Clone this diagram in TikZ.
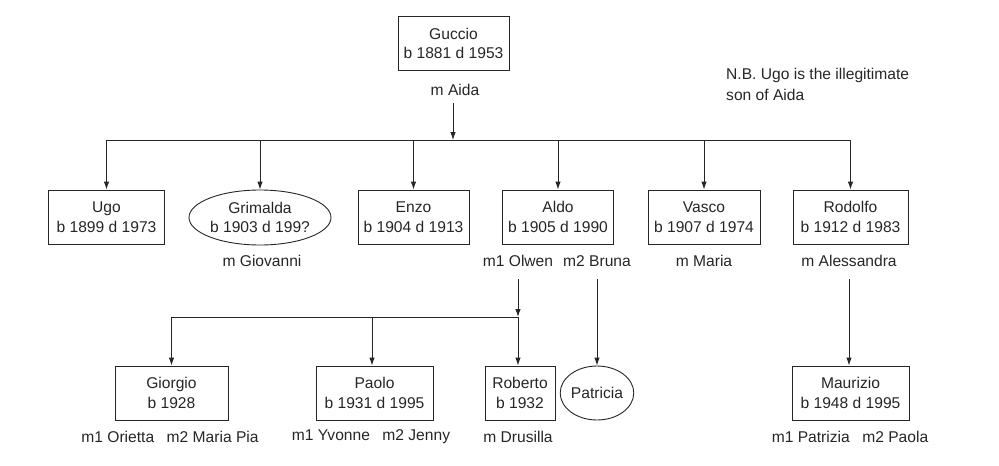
\documentclass[tikz,border=0pt]{standalone}
\usepackage{fontspec}
\setmainfont{Liberation Sans}
\usetikzlibrary{arrows.meta,shapes.geometric}
\definecolor{ink}{HTML}{262626}
\begin{document}
\begin{tikzpicture}[x=1pt,y=-1pt,
  every node/.style={text=ink,font=\fontsize{15.6}{19.5}\selectfont,inner sep=0pt},
  person/.style={draw=ink,line width=0.9pt,rectangle,minimum width=113pt,minimum height=54pt,align=center},
  oval/.style={draw=ink,line width=0.9pt,ellipse,minimum width=142pt,minimum height=55pt,align=center},
  lbl/.style={align=center},
  ln/.style={draw=ink,line width=0.9pt},
  arr/.style={ln,-{Latex[length=8pt,width=5.5pt]}}]
\useasboundingbox (0,0) rectangle (999,466);
% generation 1
\node[person,minimum width=111pt] (guccio) at (453.5,43.5) {Guccio\\b 1881 d 1953};
\node[lbl] (aida) at (455,90) {m Aida};
\node[anchor=north west,align=left,font=\fontsize{15.6}{21}\selectfont] (nb) at (726,68) {N.B. Ugo is the illegitimate\\son of Aida};
% generation 2
\node[person,minimum width=116pt] (ugo) at (106.5,217) {Ugo\\b 1899 d 1973};
\node[oval] (grimalda) at (260,217.5) {Grimalda\\b 1903 d 199?};
\node[lbl] (giovanni) at (262,261) {m Giovanni};
\node[person,minimum width=111pt] (enzo) at (413.5,217) {Enzo\\b 1904 d 1913};
\node[person,minimum width=111pt] (aldo) at (558,217) {Aldo\\b 1905 d 1990};
\node[lbl] (olwen) at (518,261) {m1 Olwen};
\node[lbl] (bruna) at (597,261) {m2 Bruna};
\node[person,minimum width=112pt] (vasco) at (704,217) {Vasco\\b 1907 d 1974};
\node[lbl] (maria) at (704,261) {m Maria};
\node[person,minimum width=115pt] (rodolfo) at (850.5,217) {Rodolfo\\b 1912 d 1983};
\node[lbl] (alessandra) at (849,261) {m Alessandra};
% generation 3
\node[person,minimum width=113pt] (giorgio) at (171.5,393) {Giorgio\\b 1928};
\node[lbl] (giorgiom) at (170,437) {m1 Orietta\hspace{0.8em}m2 Maria Pia};
\node[person,minimum width=117pt] (paolo) at (374.5,393) {Paolo\\b 1931 d 1995};
\node[lbl] (paolom) at (371,437) {m1 Yvonne\hspace{0.8em}m2 Jenny};
\node[person,minimum width=70pt] (roberto) at (520,393) {Roberto\\b 1932};
\node[lbl] (drusilla) at (518,437) {m Drusilla};
\node[draw=ink,line width=0.9pt,ellipse,minimum width=64pt,minimum height=54pt] (patricia) at (597,393) {Patricia};
\node[person,minimum width=117pt] (maurizio) at (850.5,393) {Maurizio\\b 1948 d 1995};
\node[lbl] (mauriziom) at (850,437) {m1 Patrizia\hspace{0.8em}m2 Paola};
% connectors
\coordinate (bar) at (453,140);
\coordinate (aidaout) at (453,103);
\draw[arr] (aidaout) -- (bar);
\draw[ln] (ugo.north |- bar) -- (rodolfo.north |- bar);
\draw[arr] (ugo.north |- bar) -- (ugo.north);
\draw[arr] (grimalda.north |- bar) -- (grimalda.north);
\draw[arr] (enzo.north |- bar) -- (enzo.north);
\draw[arr] (aldo.north |- bar) -- (aldo.north);
\draw[arr] (vasco.north |- bar) -- (vasco.north);
\draw[arr] (rodolfo.north |- bar) -- (rodolfo.north);
\coordinate (bar2) at (518,317);
\coordinate (olwenout) at (518,279);
\draw[arr] (olwenout) -- (bar2);
\draw[ln] (giorgio.north |- bar2) -- (bar2);
\draw[arr] (bar2) -- (bar2 |- roberto.north);
\draw[arr] (giorgio.north |- bar2) -- (giorgio.north);
\coordinate (paolodrop) at (372,317);
\draw[arr] (paolodrop) -- (paolodrop |- paolo.north);
\coordinate (brunaout) at (597,279);
\draw[arr] (brunaout) -- (patricia.north);
\coordinate (alessout) at (849,279);
\draw[arr] (alessout) -- (alessout |- maurizio.north);
\end{tikzpicture}
\end{document}
